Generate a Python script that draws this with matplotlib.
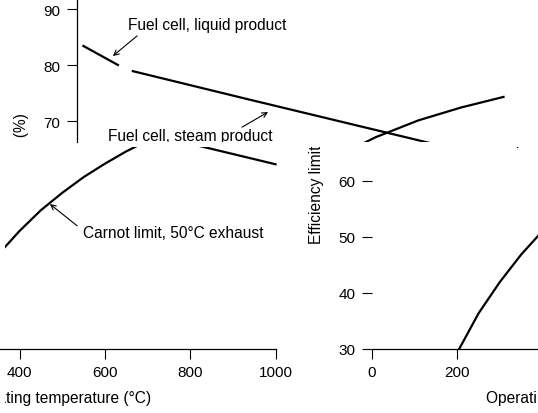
import matplotlib.pyplot as plt
from matplotlib.patches import FancyArrowPatch

plt.rcParams['font.family'] = ['Liberation Sans', 'DejaVu Sans']

# values
liquid_temp = [15, 96]
liquid_eff = [83.4, 80.0]
steam_temp = [131, 400, 700, 1000]
steam_eff = [78.9, 73.9, 68.4, 62.9]
carnot_temp = [205, 250, 300, 350, 400, 450, 500, 550, 600, 650, 700, 800, 900, 1000]
carnot_eff = [30, 36.3, 41.9, 46.8, 51.0, 54.7, 57.8, 60.6, 63.0, 65.2, 67.1, 70.1, 72.4, 74.3]
xticks = [0, 200, 400, 600, 800, 1000]
yticks = [30, 40, 50, 60, 70, 80, 90]

W, H = 538, 414
fig = plt.figure(figsize=(W / 100, H / 100), dpi=100)

# pixel layout of the un-cut chart
X0, KX = 77, 0.4265   # px of 0 degC, px per degC
KY = 5.6              # px per %


def band(left, top, right, bottom, shift, y0):
    ax = fig.add_axes([left / W, 1 - bottom / H, (right - left) / W, (bottom - top) / H])
    ax.patch.set_facecolor('none')
    for s in ['top', 'right']:
        ax.spines[s].set_visible(False)
    ax.spines['left'].set_position(('data', 0))
    ax.spines['bottom'].set_position(('data', 30))
    ax.spines['bottom'].set_bounds(0, 1000)
    ax.set_xticks(xticks)
    ax.set_yticks(yticks)
    ax.tick_params(direction='out', length=7, width=0.8, pad=5, labelsize=11)
    for s in ax.spines.values():
        s.set_linewidth(0.9)

    ax.plot(liquid_temp, liquid_eff, color='black', lw=1.6)
    ax.plot(steam_temp, steam_eff, color='black', lw=1.6)
    ax.plot(carnot_temp, carnot_eff, color='black', lw=1.6)

    kw = dict(fontsize=11.2, clip_on=True, va='center')
    ax.text(120, 87.2, 'Fuel cell, liquid product', ha='left', **kw)
    ax.text(73, 67.4, 'Fuel cell, steam product', ha='left', **kw)
    ax.text(549, 50.8, 'Carnot limit, 50°C exhaust', ha='left', **kw)
    ax.text(487, 21.2, 'Operating temperature (°C)', ha='center', **kw)
    ax.text(-131, 60.2, 'Efficiency limit (%)', ha='center', rotation=90, **kw)

    for tail, head in [((141, 85.2), (84, 81.6)),
                       ((387, 68.9), (448, 71.6)),
                       ((535, 51.9), (471, 55.8))]:
        ax.add_patch(FancyArrowPatch(tail, head, arrowstyle='->', mutation_scale=9,
                                     lw=0.8, color='black', shrinkA=0, shrinkB=0))

    ax.set_xlim((left - shift - X0) / KX, (right - shift - X0) / KX)
    ax.set_ylim(90 - (bottom - y0) / KY, 90 - (top - y0) / KY)
    return ax


top = band(0, 0, W, 143, 0, 10)
top.spines['bottom'].set_visible(False)
top.tick_params(bottom=False, labelbottom=False)

low_left = band(5, 148, 305, H, -228, 13.5)
low_left.spines['left'].set_visible(False)
low_left.tick_params(left=False, labelleft=False)

low_right = band(305, 148, W, H, 295, 13.5)
low_right.spines['left'].set_visible(False)

fig.savefig('out.png', dpi=100)
